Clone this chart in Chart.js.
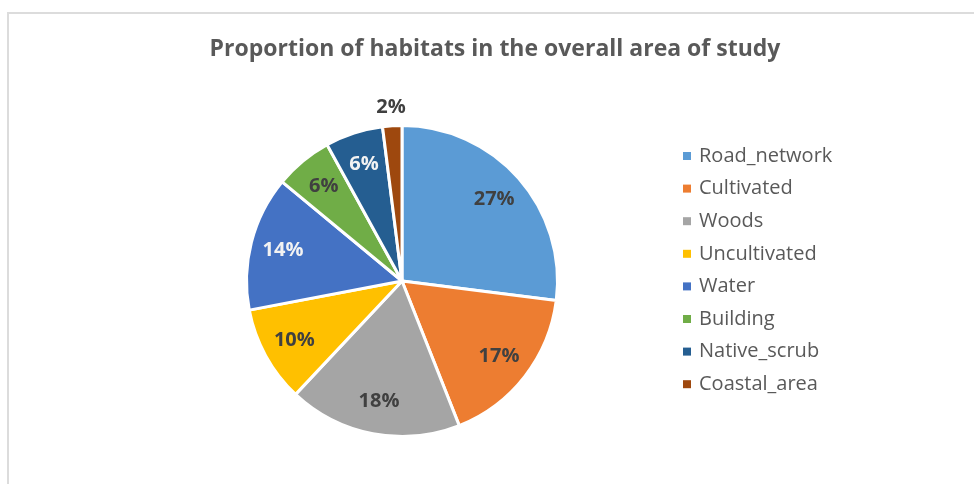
<!DOCTYPE html>
<html>
<head>
<meta charset="utf-8">
<script src="https://cdn.jsdelivr.net/npm/chart.js@4/dist/chart.umd.min.js"></script>
<style>
  html, body { margin: 0; padding: 0; background: #ffffff; }
  #wrap { position: relative; width: 974px; height: 484px; }
  #frame { position: absolute; left: 7px; top: 12px; width: 980px; height: 500px;
           border-left: 2px solid #dcdcdc; border-top: 2px solid #dcdcdc; box-sizing: border-box; }
  canvas { position: absolute; left: 0; top: 0; }
</style>
</head>
<body>
<div id="wrap">
  <div id="frame"></div>
  <canvas id="c" width="974" height="484"></canvas>
</div>
<script>
const titleText = "Proportion of habitats in the overall area of study";
const categories = ["Road_network", "Cultivated", "Woods", "Uncultivated", "Water", "Building", "Native_scrub", "Coastal_area"];
const percentages = [27, 17, 18, 10, 14, 6, 6, 2];
const sliceColors = ["#5B9BD5", "#ED7D31", "#A5A5A5", "#FFC000", "#4472C4", "#70AD47", "#255E91", "#9E480E"];
const labelColors = ["#404040", "#404040", "#404040", "#404040", "#F2F2F2", "#404040", "#F2F2F2", "#404040"];

const FONT = "'Open Sans', 'Liberation Sans', sans-serif";

const overlay = {
  id: 'overlay',
  afterDraw(chart) {
    const ctx = chart.ctx;
    ctx.save();
    // title
    ctx.fillStyle = '#595959';
    ctx.font = "bold 23px " + FONT;
    ctx.textAlign = 'center';
    ctx.textBaseline = 'middle';
    ctx.fillText(titleText, 495, 49);

    // data labels
    const meta = chart.getDatasetMeta(0);
    meta.data.forEach((arc, i) => {
      const mid = (arc.startAngle + arc.endAngle) / 2;
      const frac = percentages[i] < 4 ? 1.12 : 0.79;
      const r = arc.outerRadius * frac;
      const x = arc.x + Math.cos(mid) * r;
      const y = arc.y + Math.sin(mid) * r;
      ctx.font = "bold 20px " + FONT;
      ctx.fillStyle = labelColors[i];
      ctx.textAlign = 'center';
      ctx.textBaseline = 'middle';
      ctx.fillText(percentages[i] + '%', x, y);
    });

    // legend
    ctx.font = "20px " + FONT;
    ctx.textAlign = 'left';
    ctx.textBaseline = 'middle';
    categories.forEach((name, i) => {
      const y = 156 + i * 32.6;
      ctx.fillStyle = sliceColors[i];
      ctx.fillRect(683, y - 4, 8, 8);
      ctx.fillStyle = '#595959';
      ctx.fillText(name, 699, y);
    });
    ctx.restore();
  }
};

new Chart(document.getElementById('c'), {
  type: 'pie',
  data: {
    labels: categories,
    datasets: [{
      data: percentages,
      backgroundColor: sliceColors,
      borderColor: '#ffffff',
      borderWidth: 3
    }]
  },
  options: {
    responsive: false,
    animation: false,
    layout: { padding: { top: 124, bottom: 46, left: 88, right: 258 } },
    plugins: {
      legend: { display: false },
      title: { display: false },
      tooltip: { enabled: false }
    }
  },
  plugins: [overlay]
});
</script>
</body>
</html>
